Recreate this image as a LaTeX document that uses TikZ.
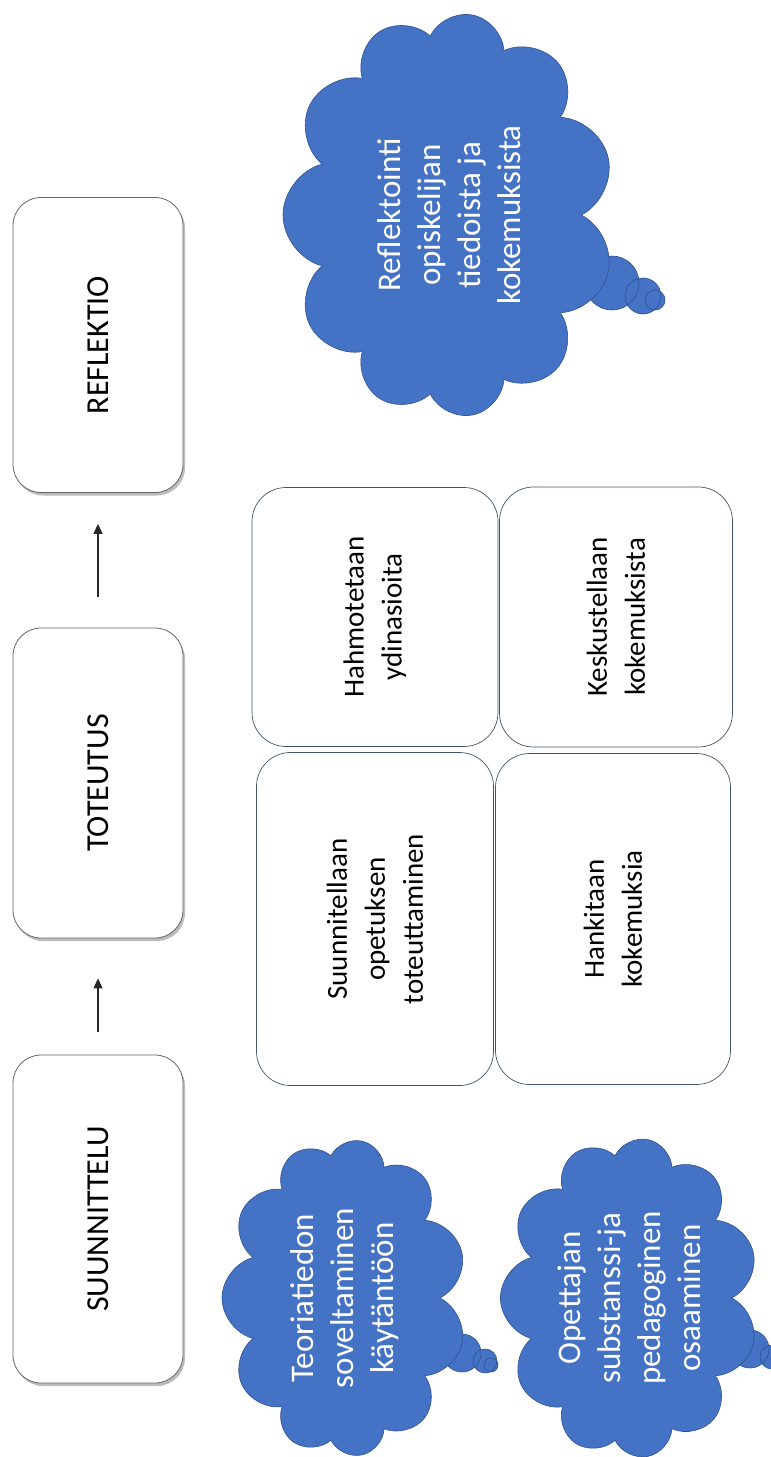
\documentclass[tikz,border=0pt]{standalone}
\usepackage{fontspec}
\setmainfont{Carlito}
\usetikzlibrary{positioning,arrows.meta,shapes.symbols,shadows}
\definecolor{cloudblue}{HTML}{4472C4}
\definecolor{cloudline}{HTML}{2F528F}
\definecolor{boxline}{HTML}{44546A}

\begin{document}
\begin{tikzpicture}[x=1pt,y=-1pt,on grid,
    phase/.style={draw=gray!80!black,fill=white,rounded corners=28pt,rotate=90,line width=0.8pt,
        minimum height=170pt,font=\fontsize{32}{39}\selectfont,
        drop shadow={shadow xshift=2pt,shadow yshift=-3pt,fill=gray!75,opacity=.7}},
    task/.style={draw=boxline,fill=white,rounded corners=34pt,rotate=90,align=center,line width=0.7pt,
        font=\fontsize{29}{38}\selectfont},
    thought/.style={cloud,cloud puffs=11,cloud ignores aspect,draw=cloudline,fill=cloudblue,
        text=white,rotate=90,align=center,line width=0.6pt,font=\fontsize{33}{40}\selectfont},
    flow/.style={-{Triangle[length=10pt,width=9pt]},line width=1.1pt,black!85}]
    \useasboundingbox (0,0) rectangle (771,1457);

    % phases
    \node[phase,minimum width=328pt] (suun) at (98,1219) {SUUNNITTELU};
    \node[phase,minimum width=310pt] (tot) [above=436pt of suun] {TOTEUTUS};
    \node[phase,minimum width=295pt] (refl) [above=438pt of tot] {REFLEKTIO};

    \draw[flow,shorten <=23pt,shorten >=40pt] (suun) -- (tot);
    \draw[flow,shorten <=31pt,shorten >=31pt] (tot) -- (refl);

    % what happens in each phase
    \node[task,minimum width=333pt,minimum height=237pt] (suunn) [below right=136pt and 277pt of tot] {Suunnitellaan\\opetuksen\\toteuttaminen};
    \node[task,minimum width=331pt,minimum height=235pt] (hank) [right=238pt of suunn] {Hankitaan\\kokemuksia};
    \node[task,minimum width=259pt,minimum height=246pt] (hahm) [above=302pt of suunn] {Hahmotetaan\\ydinasioita};
    \node[task,minimum width=260pt,minimum height=233pt] (kesk) [right=241pt of hahm] {Keskustellaan\\kokemuksista};

    % thought bubbles
    \foreach \cx/\cy/\r in {612/283/27,643/296/18,655/300/10,462/1353/19,485/1361/12,491/1365/7,750/1349/19,772/1357/12,780/1362/7}
        \fill[cloudblue] (\cx,\cy) circle[radius=\r];
    \foreach \cx/\cy/\r in {612/283/27,643/296/18,655/300/10,462/1353/19,485/1361/12,491/1365/7,750/1349/19,772/1357/12,780/1362/7}
        \draw[cloudline,line width=0.6pt] (\cx,\cy) circle[radius=\r];

    \node[thought,minimum width=317pt,minimum height=245pt] (teor) at (344.5,1298) {Teoriatiedon\\soveltaminen\\käytäntöön};
    \node[thought,minimum width=320pt,minimum height=235pt] (opet) [right=285pt of teor] {Opettajan\\substanssi-ja\\pedagoginen\\osaaminen};
    \node[thought,minimum width=404pt,minimum height=332pt] (reflc) at (449,215) {Reflektointi\\opiskelijan\\tiedoista ja\\kokemuksista};
\end{tikzpicture}
\end{document}
